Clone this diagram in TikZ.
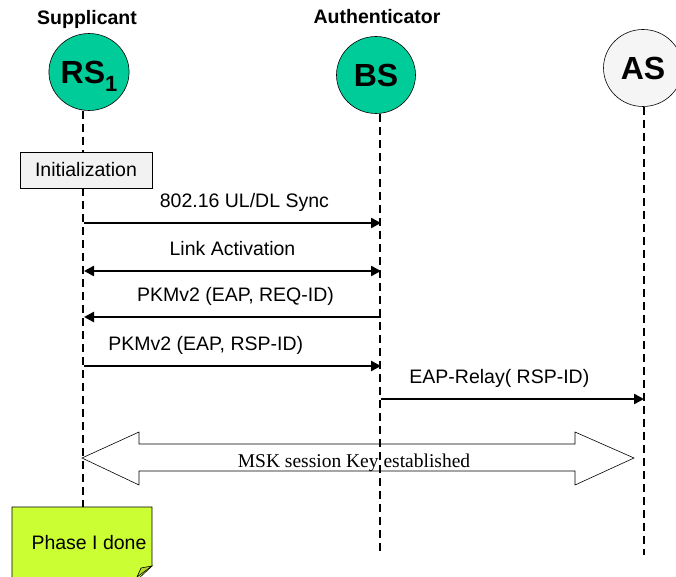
\documentclass[tikz,border=0pt]{standalone}
\usepackage{fontspec}
\setmainfont{Liberation Sans}
\newfontfamily\mskfont{Liberation Serif}
\usepackage{tikz}
\usetikzlibrary{arrows.meta,calc,positioning,shapes.geometric}
\usepackage{xcolor}
\definecolor{nodegreen}{HTML}{00CC99}
\definecolor{asgrey}{HTML}{F5F5F5}
\definecolor{initgrey}{HTML}{F2F2F2}
\definecolor{noteyellow}{HTML}{CCFF33}
\definecolor{foldyellow}{HTML}{B5D92B}

\begin{document}
\begin{tikzpicture}[x=1pt,y=-1pt,>={Triangle[length=10pt,width=10pt]},semithick,
  entity/.style={ellipse,draw,minimum width=79pt,minimum height=77pt,inner sep=0pt,font=\bfseries\fontsize{32}{34}\selectfont},
  role/.style={anchor=base,font=\bfseries\fontsize{19.5}{22}\selectfont},
  txt/.style={font=\fontsize{19.5}{22}\selectfont},
  life/.style={dash pattern=on 8pt off 5pt,line width=1.8pt},
  msg/.style={->,line width=2.4pt},
  msglabel/.style={txt,above=10pt,inner sep=0pt,text height=14pt,text depth=4pt}]
\useasboundingbox (0,0) rectangle (676,577);

\node[entity,fill=nodegreen] (rs) at (89,72) {RS\raisebox{-8pt}[0pt][0pt]{\fontsize{22}{22}\selectfont 1}};
\node[entity,fill=nodegreen] (bs) at (376,75) {BS};
\node[entity,fill=asgrey] (as) at (643,68) {AS};

\node[role] (sup) at (87,25) {Supplicant};
\node[role] (auth) at (377,24) {Authenticator};

\node[txt,draw,fill=initgrey,minimum width=132pt,minimum height=36pt] (init) at (86,170) {Initialization};

% lifelines
\coordinate (rsl) at (83,0);
\coordinate (bsl) at (380,0);
\coordinate (asl) at (644,0);
\coordinate (rsend) at (83,507);
\coordinate (bsend) at (380,554);
\coordinate (asend) at (644,555);

\draw[life] (rs.south -| rsl) -- (init.north -| rsl);
\draw[life] (init.south -| rsl) -- (rsend);
\draw[life] (bs.south -| bsl) -- (bsend);
\draw[life] (as.south -| asl) -- (asend);

\foreach \n/\y in {1/223,2/271,3/317,4/366,5/399}{
  \coordinate (rs\n) at (84,\y);
  \coordinate (bs\n) at (381,\y);
  \coordinate (as\n) at (644,\y);
}

\draw[msg] (rs1) -- node[msglabel,pos=0.54] {802.16 UL/DL Sync} (bs1);
\draw[msg,<->] (rs2) -- node[msglabel] {Link Activation} (bs2);
\draw[msg] (bs3) -- node[msglabel,pos=0.49] {PKMv2 (EAP, REQ-ID)} (rs3);
\draw[msg] (rs4) -- node[msglabel,pos=0.41] {PKMv2 (EAP, RSP-ID)} (bs4);
\draw[msg] (bs5) -- node[msglabel,pos=0.45] {EAP-Relay( RSP-ID)} (as5);

% key arrow
\coordinate (mskl) at (82,458);
\coordinate (mskr) at (634,458);
\draw (mskl) -- ++(57,-26) -- ++(0,12) -- ($(mskr)+(-59,-14)$) -- ++(0,-12) -- (mskr)
  -- ++(-59,27) -- ++(0,-14) -- ($(mskl)+(57,13)$) -- ++(0,14) -- cycle;
\node[anchor=base,font=\mskfont\fontsize{19.5}{22}\selectfont] (msk) at (354,467) {MSK session Key established};

% note
\draw[fill=noteyellow] (12,507) -- (152,507) -- (152,566) -- (137,580) -- (12,580) -- cycle;
\draw[fill=foldyellow] (152,566) -- (137,577) -- (141,568) -- cycle;
\node[txt] (done) at (89,543) {Phase I done};
\end{tikzpicture}
\end{document}
